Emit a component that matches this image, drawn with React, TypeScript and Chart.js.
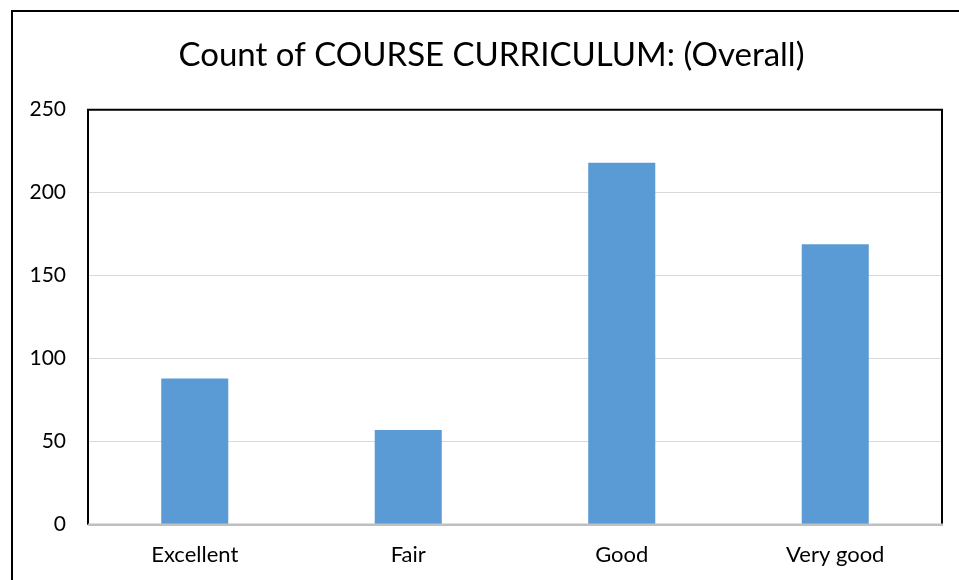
import React, { useEffect, useRef } from "react";
import { Chart, registerables } from "chart.js";

Chart.register(...registerables);

const categories = ["Excellent", "Fair", "Good", "Very good"];
const counts = [88, 57, 218, 169];
const yTicks = [0, 50, 100, 150, 200, 250];
const titleText = "Count of COURSE CURRICULUM: (Overall)";

const FONT = "Lato, 'Open Sans', sans-serif";

const framePlugin = {
  id: "framePlugin",
  beforeDraw(chart: any) {
    const ctx = chart.ctx;
    ctx.save();
    ctx.fillStyle = "#ffffff";
    ctx.fillRect(0, 0, chart.width, chart.height);
    ctx.strokeStyle = "#000000";
    ctx.lineWidth = 2;
    ctx.strokeRect(12, 11, chart.width + 40, chart.height + 40);
    ctx.fillStyle = "#000000";
    ctx.font = `33px ${FONT}`;
    ctx.textAlign = "center";
    ctx.textBaseline = "alphabetic";
    ctx.fillText(titleText, 491.5, 65.5);
    ctx.restore();
  },
  afterDatasetsDraw(chart: any) {
    const { ctx, chartArea } = chart;
    const { left, top, right, bottom } = chartArea;
    ctx.save();
    ctx.strokeStyle = "#000000";
    ctx.lineWidth = 2;
    ctx.beginPath();
    ctx.moveTo(left, bottom);
    ctx.lineTo(left, top);
    ctx.lineTo(right, top);
    ctx.lineTo(right, bottom);
    ctx.stroke();
    ctx.strokeStyle = "#bfbfbf";
    ctx.lineWidth = 2.5;
    ctx.beginPath();
    ctx.moveTo(left, bottom);
    ctx.lineTo(right + 1, bottom);
    ctx.stroke();
    ctx.restore();
  },
};

export default function App() {
  const ref = useRef<HTMLCanvasElement | null>(null);
  useEffect(() => {
    if (!ref.current) return;
    const chart = new Chart(ref.current, {
      type: "bar",
      data: {
        labels: categories,
        datasets: [
          {
            label: "Count",
            data: counts,
            backgroundColor: "#5b9bd5",
            borderWidth: 0,
            categoryPercentage: 1,
            barPercentage: 0.314,
          },
        ],
      },
      options: {
        animation: false,
        responsive: false,
        maintainAspectRatio: false,
        layout: { padding: { left: 0, right: 17, top: 109.7, bottom: 0 } },
        plugins: {
          legend: { display: false },
          tooltip: { enabled: false },
          title: { display: false },
        },
        scales: {
          x: {
            grid: { display: false, drawTicks: false },
            border: { display: false },
            ticks: {
              color: "#000000",
              font: { family: FONT, size: 22, lineHeight: 1.2 },
              padding: 17,
            },
            afterFit(scale: any) {
              scale.height = 55.3;
            },
          },
          y: {
            min: 0,
            max: 250,
            grid: { color: "#d9d9d9", lineWidth: 1, drawTicks: false },
            border: { display: false },
            afterBuildTicks(scale: any) {
              scale.ticks = yTicks.map((v) => ({ value: v }));
            },
            ticks: {
              color: "#000000",
              font: { family: FONT, size: 21, lineHeight: 1.2 },
              padding: 22,
            },
            afterFit(scale: any) {
              scale.width = 88;
            },
          },
        },
      },
      plugins: [framePlugin],
    });
    return () => chart.destroy();
  }, []);
  return (
    <div style={{ position: "absolute", left: 0, top: 0, width: 959, height: 580 }}>
      <canvas ref={ref} width={959} height={580} style={{ width: 959, height: 580, display: "block" }} />
    </div>
  );
}
